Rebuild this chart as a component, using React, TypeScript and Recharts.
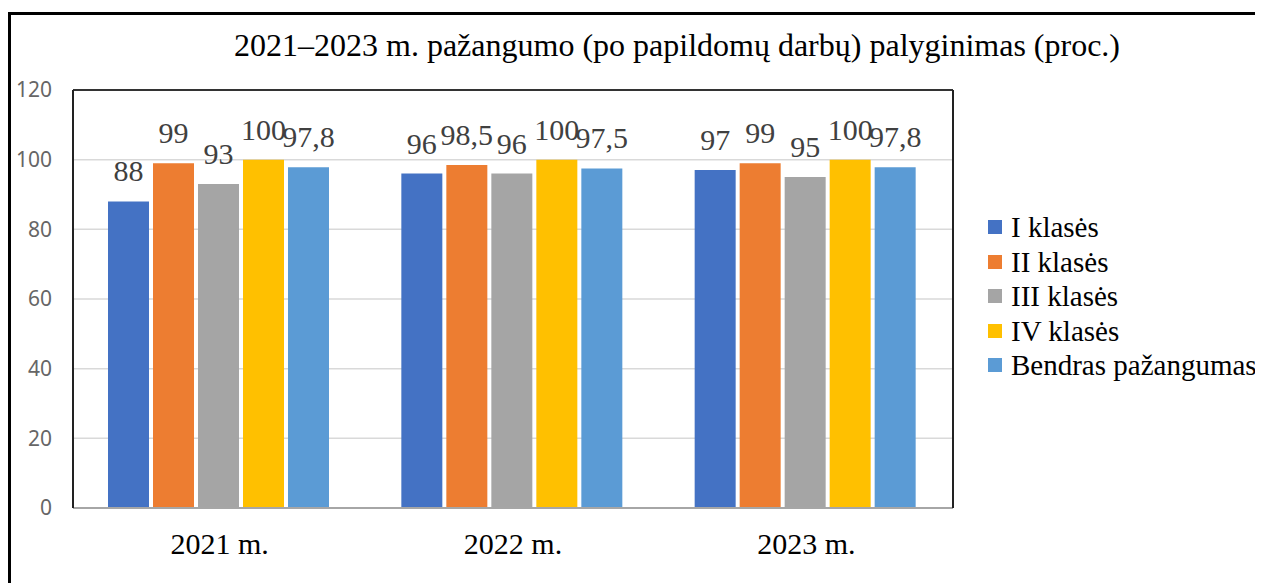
import React from 'react';
import {
    BarChart, Bar, XAxis, YAxis, CartesianGrid, LabelList, ReferenceLine
} from 'recharts';

const years = ['2021 m.', '2022 m.', '2023 m.'];
const klasesI = [88, 96, 97];
const klasesII = [99, 98.5, 99];
const klasesIII = [93, 96, 95];
const klasesIV = [100, 100, 100];
const bendras = [97.8, 97.5, 97.8];
const yTicks = [0, 20, 40, 60, 80, 100, 120];

const series = [
    { key: 'k1', name: 'I klasės', values: klasesI, color: '#4472C4' },
    { key: 'k2', name: 'II klasės', values: klasesII, color: '#ED7D31' },
    { key: 'k3', name: 'III klasės', values: klasesIII, color: '#A5A5A5' },
    { key: 'k4', name: 'IV klasės', values: klasesIV, color: '#FFC000' },
    { key: 'bendras', name: 'Bendras pažangumas', values: bendras, color: '#5B9BD5' },
];

const data = years.map((year, i) => {
    const row: { [key: string]: any } = { year };
    series.forEach(s => { row[s.key] = s.values[i]; });
    return row;
});

const serif = '"Liberation Serif", "Times New Roman", serif';
const fmt = (v: any) => String(v).replace('.', ',');

// value label above each bar, in serif like the original
const ValueLabel = (props: any) => {
    const { x, y, width, value } = props;
    return (
        <text
            x={Number(x) + Number(width) / 2}
            y={Number(y) - 20}
            textAnchor="middle"
            fill="#404040"
            fontSize={30}
            fontFamily={serif}
        >
            {fmt(value)}
        </text>
    );
};

const App: React.FC = () => {
    return (
        <div style={{ position: 'relative', width: 1255, height: 575, overflow: 'hidden', background: '#fff' }}>
            <div style={{
                position: 'absolute', left: 0, top: 4, width: 1400, height: 700,
                borderLeft: '3px solid #000', borderTop: '3px solid #000'
            }} />
            <div style={{
                position: 'absolute', left: 0, width: 1338, top: 21, textAlign: 'center',
                fontFamily: serif, fontSize: 32, color: '#000', lineHeight: '32px'
            }}>
                2021–2023 m. pažangumo (po papildomų darbų) palyginimas (proc.)
            </div>
            <div style={{ position: 'absolute', left: 0, top: 0 }}>
                <BarChart
                    width={1255}
                    height={575}
                    data={data}
                    margin={{ top: 82, right: 309, bottom: 45, left: 15 }}
                    barCategoryGap={35}
                    barGap={4}
                >
                    <CartesianGrid vertical={false} stroke="#d9d9d9" strokeWidth={1.5} />
                    <XAxis
                        dataKey="year"
                        height={30}
                        tickLine={false}
                        tickSize={0}
                        tickMargin={25}
                        axisLine={{ stroke: '#a6a6a6', strokeWidth: 2 }}
                        tick={{ fill: '#000', fontSize: 30, fontFamily: serif }}
                    />
                    <YAxis
                        width={50}
                        domain={[0, 120]}
                        ticks={yTicks}
                        interval={0}
                        tickLine={false}
                        tickSize={0}
                        tickMargin={21}
                        axisLine={{ stroke: '#222', strokeWidth: 2 }}
                        tick={{ fill: '#666', fontSize: 21, fontFamily: '"Noto Sans", sans-serif' }}
                    />
                    <YAxis
                        yAxisId="right"
                        orientation="right"
                        width={1}
                        domain={[0, 120]}
                        tick={false}
                        tickLine={false}
                        axisLine={{ stroke: '#222', strokeWidth: 2 }}
                    />
                    <ReferenceLine y={120} stroke="#333" strokeWidth={2} />
                    {series.map(s => (
                        <Bar key={s.key} dataKey={s.key} name={s.name} fill={s.color} isAnimationActive={false}>
                            <LabelList dataKey={s.key} content={ValueLabel} />
                        </Bar>
                    ))}
                </BarChart>
            </div>
            <div style={{ position: 'absolute', left: 980, top: 202 }}>
                {series.map(s => (
                    <div key={s.key} style={{ display: 'flex', alignItems: 'center', height: 34.5 }}>
                        <span style={{ display: 'inline-block', width: 14, height: 14, background: s.color, marginRight: 9 }} />
                        <span style={{ fontFamily: serif, fontSize: 29, color: '#000', whiteSpace: 'nowrap', lineHeight: '34px' }}>{s.name}</span>
                    </div>
                ))}
            </div>
        </div>
    );
};

export default App;
